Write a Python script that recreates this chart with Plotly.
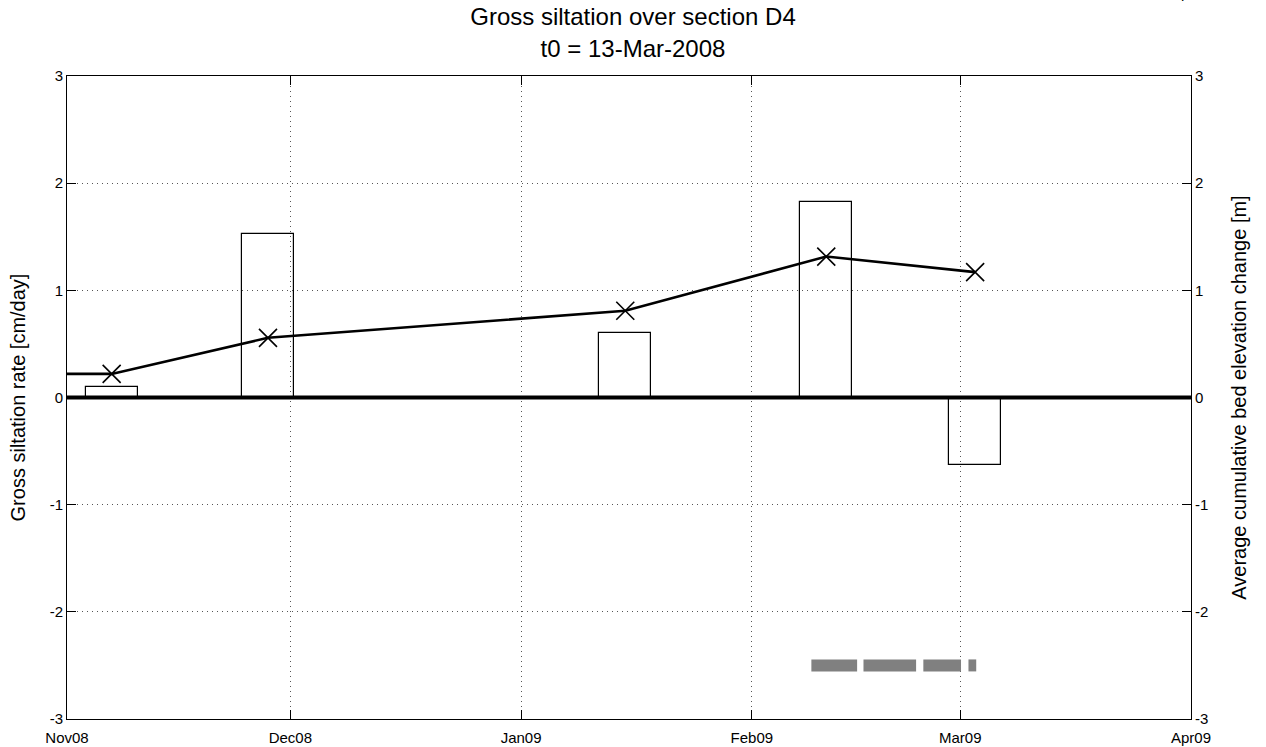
import plotly.graph_objects as go

# ---- data ----
month_ticks = ["2008-11-01", "2008-12-01", "2009-01-01", "2009-02-01", "2009-03-01", "2009-04-01"]
month_labels = ["Nov08", "Dec08", "Jan09", "Feb09", "Mar09", "Apr09"]

bar_dates = ["2008-11-07", "2008-11-28", "2009-01-15", "2009-02-11", "2009-03-03"]
siltation_rate = [0.097, 1.53, 0.60, 1.825, -0.63]   # cm/day

cum_dates = ["2008-10-10", "2008-11-07", "2008-11-28", "2009-01-15", "2009-02-11", "2009-03-03"]
cum_change = [0.22, 0.22, 0.557, 0.81, 1.315, 1.17]   # m

seg_start = ["2009-02-09 00:00", "2009-02-16 00:00", "2009-02-24 01:00", "2009-03-02 02:30"]
seg_end = ["2009-02-15 03:30", "2009-02-23 01:40", "2009-03-01 02:30", "2009-03-03 03:30"]
seg_level = -2.5

y_ticks = [-3, -2, -1, 0, 1, 2, 3]
y_labels = ["-3", "-2", "-1", "0", "1", "2", "3"]

FONT = "Liberation Sans, Arial, sans-serif"
DAY_MS = 86400000

fig = go.Figure()

# bars (outlined)
fig.add_trace(go.Bar(
    x=bar_dates, y=siltation_rate, width=[7 * DAY_MS] * len(bar_dates),
    marker=dict(color="rgba(0,0,0,0)", line=dict(color="#000000", width=1.2)),
    yaxis="y", showlegend=False, hoverinfo="x+y"))

# coverage segments
sx, sy = [], []
for a, b in zip(seg_start, seg_end):
    sx += [a, b, None]
    sy += [seg_level, seg_level, None]
fig.add_trace(go.Scatter(
    x=sx, y=sy, mode="lines", line=dict(color="#808080", width=12),
    yaxis="y", showlegend=False, connectgaps=False))

# cumulative line
fig.add_trace(go.Scatter(
    x=cum_dates, y=cum_change, mode="lines+markers",
    line=dict(color="#000000", width=2.6),
    marker=dict(symbol="x-thin-open", size=18, color="#000000",
                line=dict(color="#000000", width=1.6)),
    yaxis="y2", showlegend=False, cliponaxis=True))

# zero line
fig.add_shape(type="line", xref="paper", x0=0, x1=1, yref="y", y0=0, y1=0,
              line=dict(color="#000000", width=4))

# top axis labels (cut off at top of image)
for d, lab in zip(month_ticks, month_labels):
    fig.add_annotation(x=d, xref="x", y=1.1135, yref="paper", yanchor="bottom",
                       text=lab, showarrow=False,
                       font=dict(family=FONT, size=15, color="#000000"))

axis_common = dict(showline=True, linecolor="#000000", linewidth=1,
                   ticks="inside", ticklen=9, tickcolor="#000000",
                   tickfont=dict(family=FONT, size=15, color="#000000"),
                   zeroline=False, automargin=False)

GRID = dict(showgrid=True, gridcolor="#555555", griddash="1px,4px", gridwidth=1)

fig.update_layout(
    width=1266, height=747,
    margin=dict(l=67, r=75, t=76, b=28, autoexpand=False),
    paper_bgcolor="#ffffff", plot_bgcolor="#ffffff",
    title=dict(text="Gross siltation over section D4<br>t0 = 13-Mar-2008",
               x=0.5, xanchor="center", yref="container", y=0.966, yanchor="top",
               font=dict(family=FONT, size=24, color="#000000")),
    xaxis=dict(type="date", range=["2008-11-01", "2009-04-01"],
               tickmode="array", tickvals=month_ticks, ticktext=month_labels,
               ticklabelstandoff=5,
               mirror="ticks", **GRID, **axis_common),
    yaxis=dict(range=[-3, 3], tickmode="array", tickvals=y_ticks, ticktext=y_labels,
               title=dict(text="Gross siltation rate [cm/day]",
                          font=dict(family=FONT, size=20, color="#000000"), standoff=18),
               **GRID, **axis_common),
    yaxis2=dict(range=[-3, 3], tickmode="array", tickvals=y_ticks, ticktext=y_labels,
                overlaying="y", side="right", showgrid=False,
                title=dict(text="Average cumulative bed elevation change [m]",
                           font=dict(family=FONT, size=20, color="#000000"), standoff=24),
                **axis_common),
    bargap=0,
    hovermode="closest",
)

fig.write_html("out.html", config={"displayModeBar": False},
               post_script="document.body.style.margin='0';")
